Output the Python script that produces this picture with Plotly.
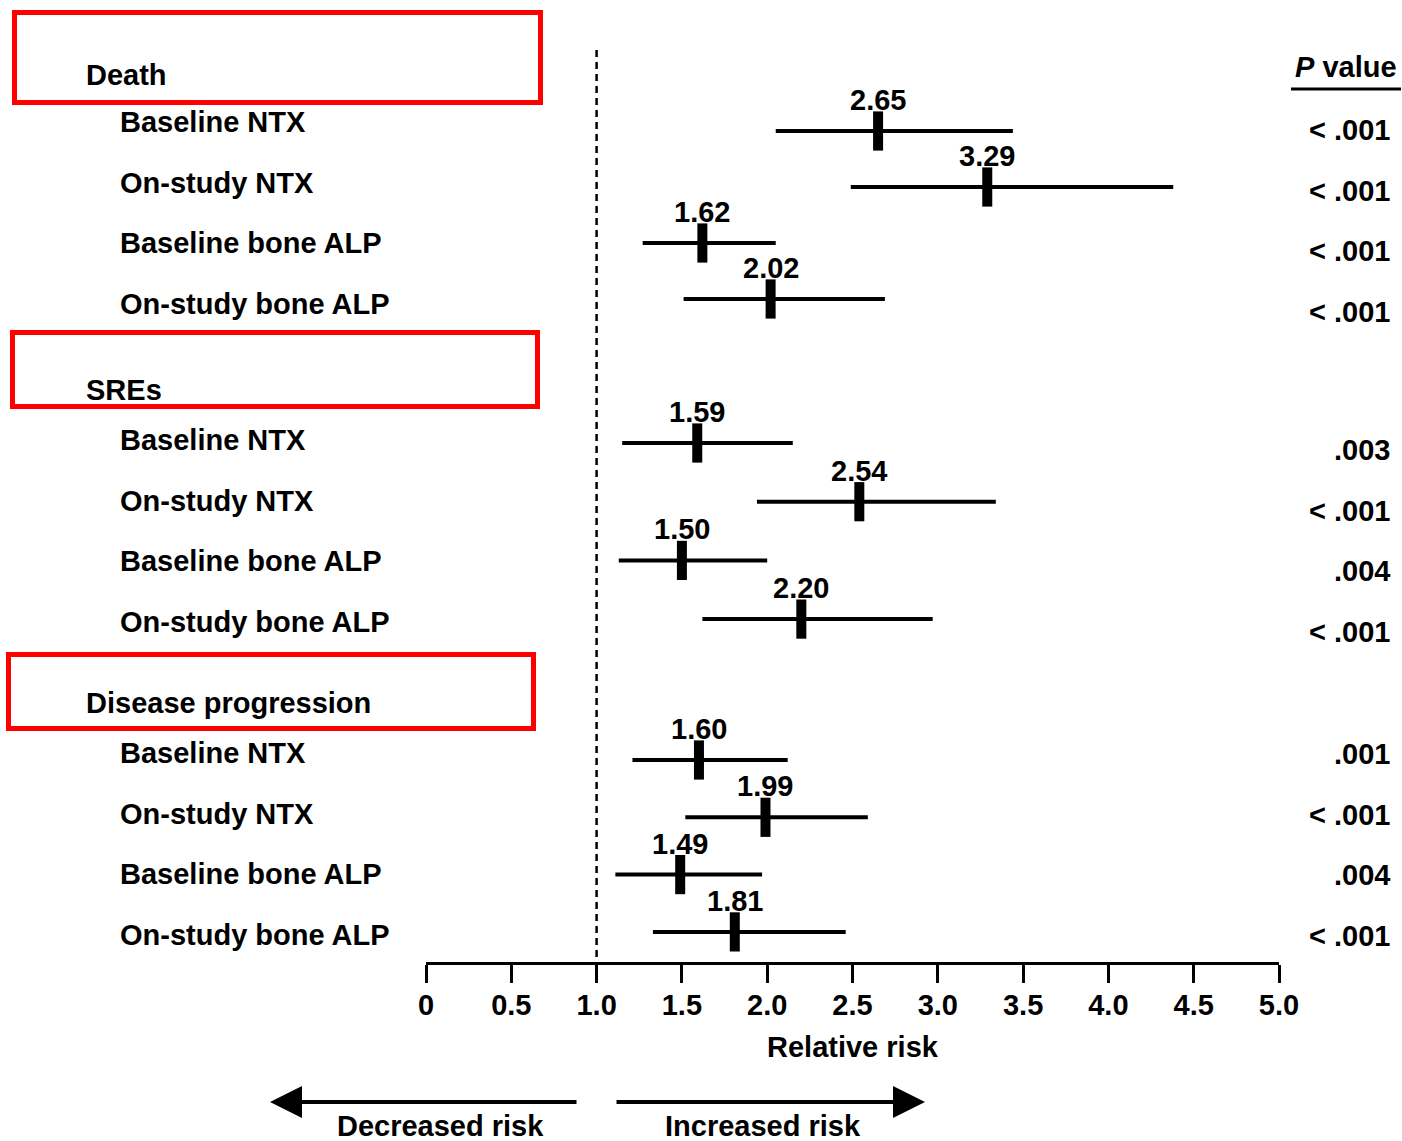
import plotly.graph_objects as go

# ---------------- data ----------------
groups = ["Death", "SREs", "Disease progression"]
items = ["Baseline NTX", "On-study NTX", "Baseline bone ALP", "On-study bone ALP"]

rr_death = [2.65, 3.29, 1.62, 2.02]
lo_death = [2.05, 2.49, 1.27, 1.51]
hi_death = [3.44, 4.38, 2.05, 2.69]
p_death = ["< .001", "< .001", "< .001", "< .001"]

rr_sre = [1.59, 2.54, 1.50, 2.20]
lo_sre = [1.15, 1.94, 1.13, 1.62]
hi_sre = [2.15, 3.34, 2.00, 2.97]
p_sre = [".003", "< .001", ".004", "< .001"]

rr_dp = [1.60, 1.99, 1.49, 1.81]
lo_dp = [1.21, 1.52, 1.11, 1.33]
hi_dp = [2.12, 2.59, 1.97, 2.46]
p_dp = [".001", "< .001", ".004", "< .001"]

tick_vals = [0, 0.5, 1.0, 1.5, 2.0, 2.5, 3.0, 3.5, 4.0, 4.5, 5.0]
tick_text = ["0", "0.5", "1.0", "1.5", "2.0", "2.5", "3.0", "3.5", "4.0", "4.5", "5.0"]

# ---------------- layout geometry ----------------
W, H = 1402, 1141
OX, EW = 8.0, 1374.0          # horizontal offset / effective width of drawing


def px(x):
    """page pixel -> paper fraction (horizontal)"""
    return (x - OX) / EW


header_y = [75, 390, 703]
mark_base = [131, 443, 760]
mark_step = [56, 58.7, 57.3]
label_base = [122, 440, 753]
p_base = [130, 450, 754]
row_step = 60.5

FONT = "Liberation Sans, Arial, Helvetica, sans-serif"
FS = 29
BOLD = dict(family=FONT, size=FS, color="black", weight="bold")

rr_all = [rr_death, rr_sre, rr_dp]
lo_all = [lo_death, lo_sre, lo_dp]
hi_all = [hi_death, hi_sre, hi_dp]
p_all = [p_death, p_sre, p_dp]

fig = go.Figure()
annotations = []
shapes = []

for g in range(3):
    ys = [mark_base[g] + k * mark_step[g] for k in range(4)]
    rr, lo, hi = rr_all[g], lo_all[g], hi_all[g]
    fig.add_trace(go.Scatter(
        x=rr, y=ys, mode="markers", showlegend=False, cliponaxis=False,
        marker=dict(symbol="line-ns", size=28, color="black",
                    line=dict(width=10, color="black")),
        error_x=dict(type="data", symmetric=False,
                     array=[h - r for h, r in zip(hi, rr)],
                     arrayminus=[r - l for r, l in zip(rr, lo)],
                     thickness=4, width=0, color="black"),
        hoverinfo="skip",
    ))
    for r, y in zip(rr, ys):
        annotations.append(dict(x=r, y=y - 31, xref="x", yref="y",
                                text=f"{r:.2f}", showarrow=False,
                                font=BOLD, xanchor="center", yanchor="middle"))
    annotations.append(dict(x=px(84), y=header_y[g], xref="paper", yref="y",
                            text=groups[g], showarrow=False, font=BOLD,
                            xanchor="left", yanchor="middle"))
    for k, name in enumerate(items):
        annotations.append(dict(x=px(118), y=label_base[g] + k * row_step,
                                xref="paper", yref="y", text=name,
                                showarrow=False, font=BOLD,
                                xanchor="left", yanchor="middle"))
        annotations.append(dict(x=px(1392), y=p_base[g] + k * row_step,
                                xref="paper", yref="y", text=p_all[g][k],
                                showarrow=False, font=BOLD,
                                xanchor="right", yanchor="middle"))

# P value header + underline
annotations.append(dict(x=px(1399), y=67, xref="paper", yref="y",
                        text="<i>P</i> value", showarrow=False, font=BOLD,
                        xanchor="right", yanchor="middle"))
shapes.append(dict(type="line", xref="paper", yref="y",
                   x0=px(1291), x1=px(1401), y0=89, y1=89,
                   line=dict(color="black", width=3)))

# reference line at RR = 1
shapes.append(dict(type="line", xref="x", yref="y", x0=1, x1=1, y0=50, y1=963,
                   line=dict(color="black", width=2.5, dash="7px,5px")))

# axis title
annotations.append(dict(x=px(853), y=1047, xref="paper", yref="y",
                        text="Relative risk", showarrow=False, font=BOLD,
                        xanchor="center", yanchor="middle"))

# arrows and labels
annotations.append(dict(x=px(270), y=1102, xref="paper", yref="y", text="",
                        showarrow=True, ax=308, ay=0, arrowhead=2,
                        arrowsize=1.6, arrowwidth=4, arrowcolor="black"))
annotations.append(dict(x=px(925), y=1102, xref="paper", yref="y", text="",
                        showarrow=True, ax=-310, ay=0, arrowhead=2,
                        arrowsize=1.6, arrowwidth=4, arrowcolor="black"))
annotations.append(dict(x=px(440), y=1126, xref="paper", yref="y",
                        text="Decreased risk", showarrow=False, font=BOLD,
                        xanchor="center", yanchor="middle"))
annotations.append(dict(x=px(763), y=1126, xref="paper", yref="y",
                        text="Increased risk", showarrow=False, font=BOLD,
                        xanchor="center", yanchor="middle"))

# red highlight boxes
for (x0, y0, x1, y1) in [(14.5, 12.5, 540.5, 102.5),
                         (12.5, 332.5, 537.5, 406.5),
                         (8.5, 654.5, 533.5, 728.5)]:
    shapes.append(dict(type="rect", xref="paper", yref="y",
                       x0=px(x0), x1=px(x1), y0=y0, y1=y1,
                       line=dict(color="#ff0000", width=5),
                       fillcolor="rgba(0,0,0,0)"))

fig.update_layout(
    width=W, height=H, margin=dict(l=0, r=0, t=0, b=0),
    paper_bgcolor="white", plot_bgcolor="white",
    annotations=annotations, shapes=shapes, showlegend=False,
    xaxis=dict(domain=[px(426), px(1279)], range=[0, 5], anchor="free",
               position=1 - 963 / H, showline=True, linecolor="black",
               linewidth=2.5, ticks="outside", ticklen=18, tickwidth=2.5,
               tickcolor="black", tickvals=tick_vals, ticktext=tick_text,
               tickfont=BOLD, ticklabelstandoff=-3, showgrid=False,
               zeroline=False, fixedrange=True),
    yaxis=dict(domain=[0, 1], range=[H, 0], visible=False, showgrid=False,
               zeroline=False, fixedrange=True),
)

fig.write_html("out.html")
